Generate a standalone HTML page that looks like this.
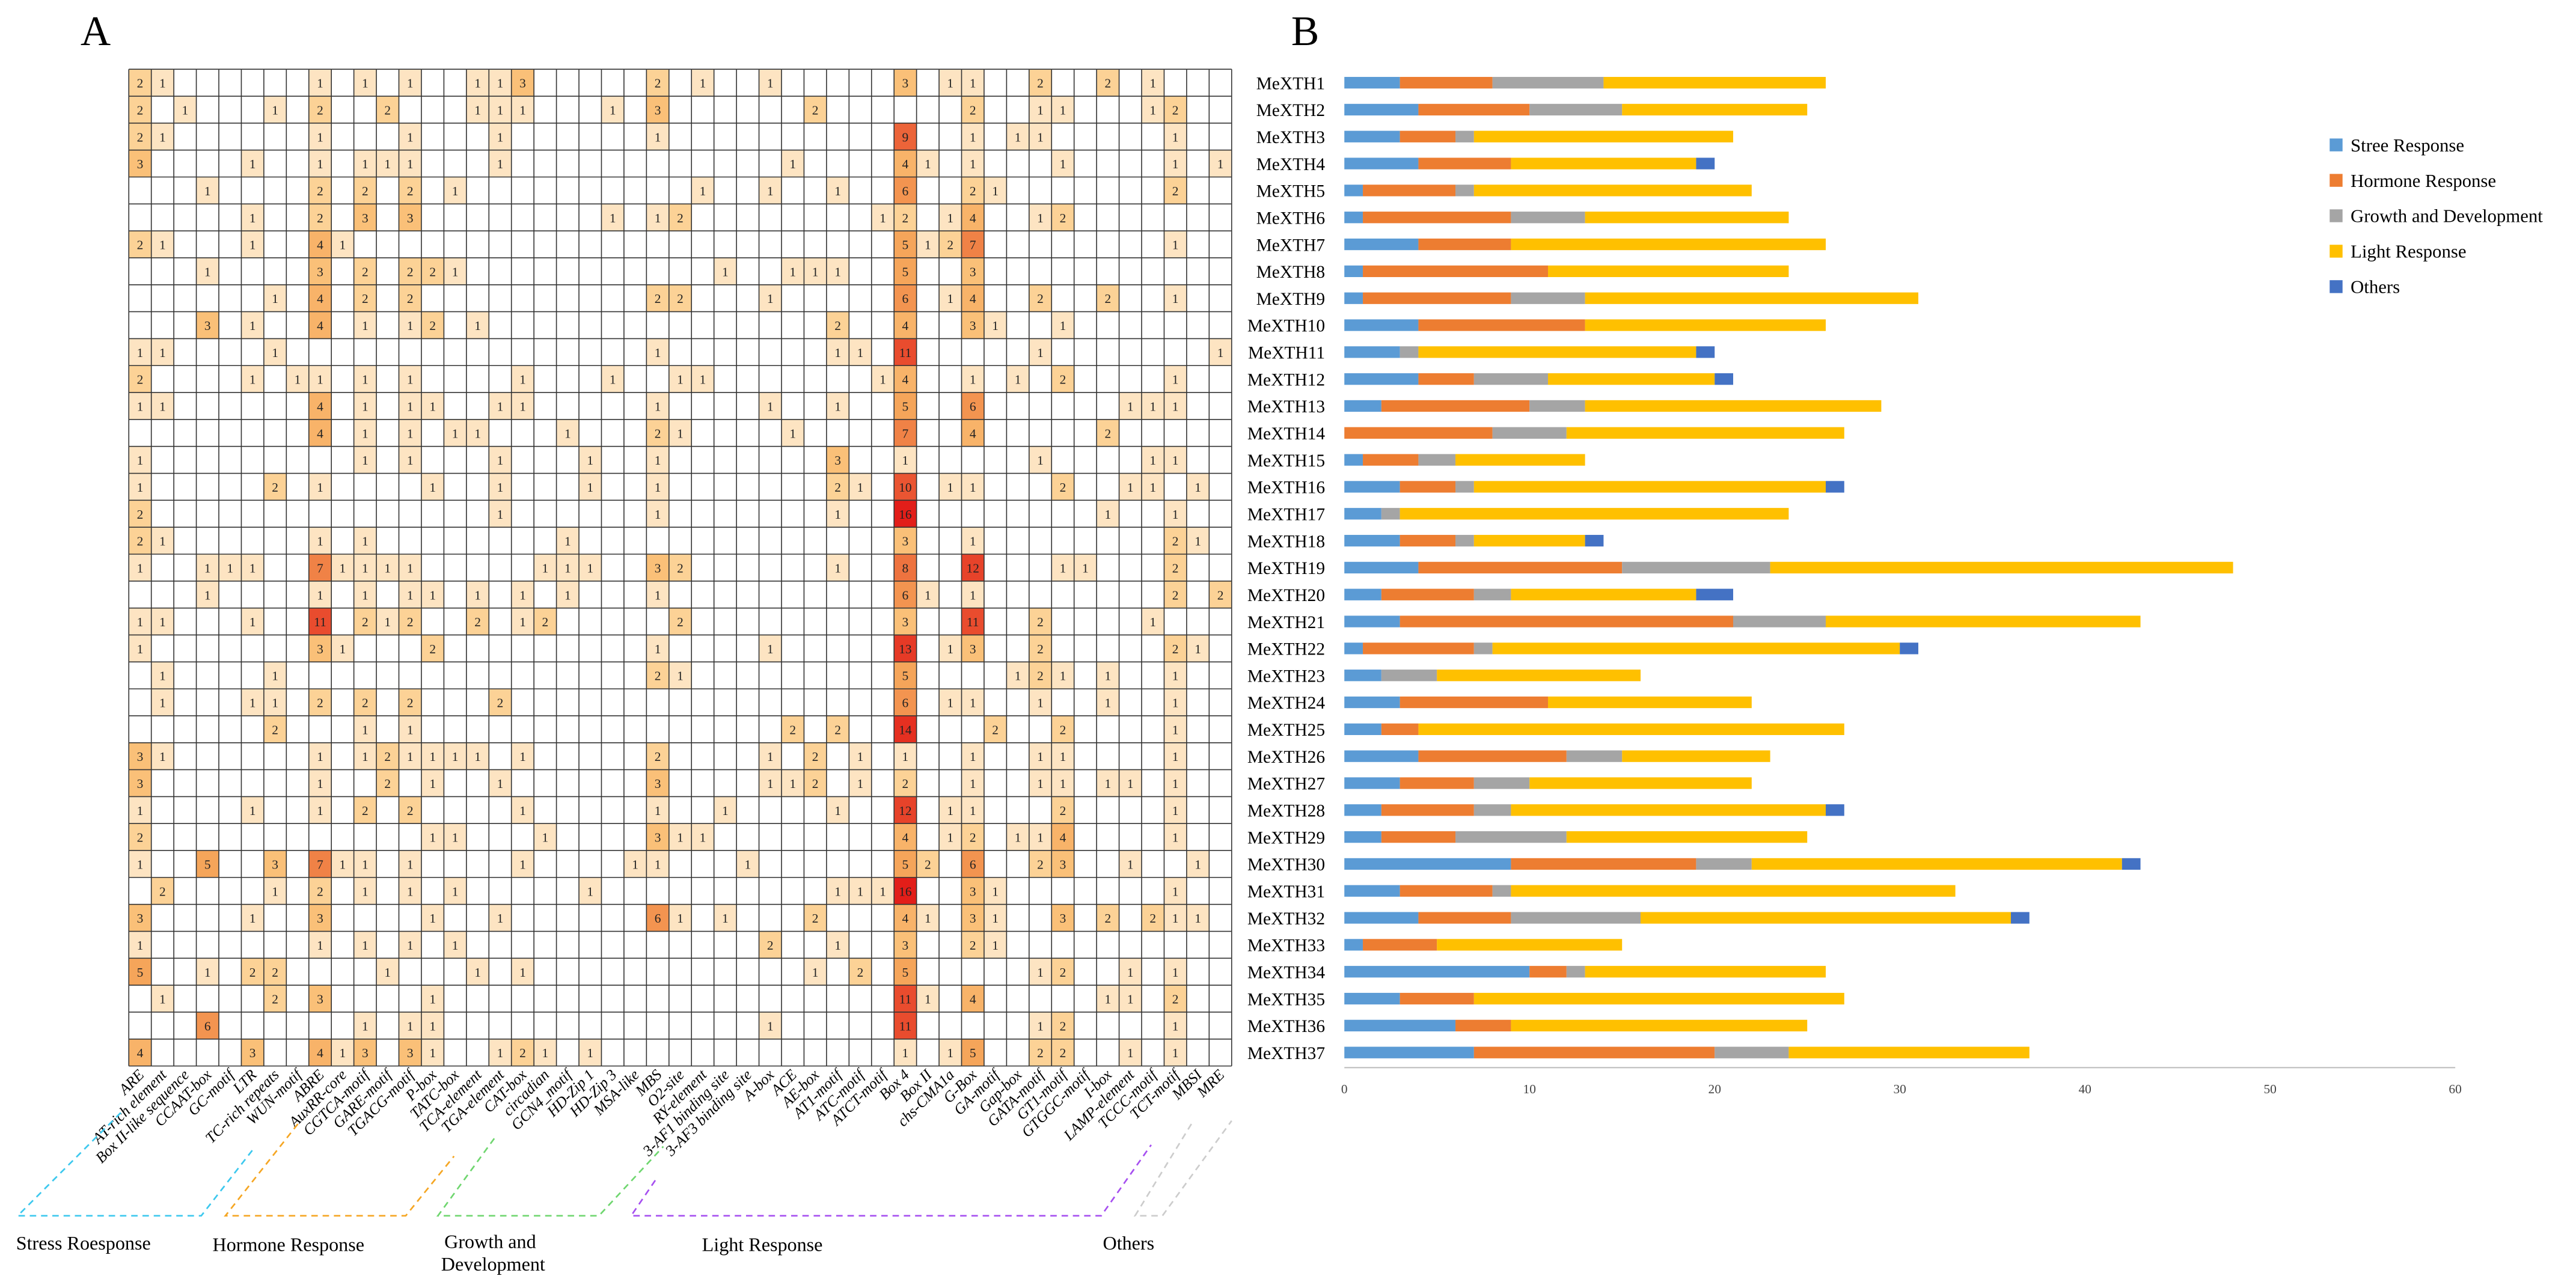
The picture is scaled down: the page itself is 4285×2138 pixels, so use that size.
<!DOCTYPE html>
<html><head><meta charset="utf-8"><style>
html,body{margin:0;padding:0;background:#fff}
svg{display:block}
text{font-family:"Liberation Serif",serif}
</style></head><body>
<svg id="fig" xmlns="http://www.w3.org/2000/svg" width="4285" height="2138" viewBox="0 0 1600 798" preserveAspectRatio="none">
<text x="50" y="28" font-size="26">A</text>
<text x="802" y="28" font-size="26">B</text>
<g id="heat"></g>
<g id="groups">
<polyline points="75,691 11,755 125,755 157,714" fill="none" stroke="#3cc8ee" stroke-width="1" stroke-dasharray="4,3"/>
<polyline points="185,698 140,755 252,755 282,718" fill="none" stroke="#f5a623" stroke-width="1" stroke-dasharray="4,3"/>
<polyline points="307,707 272,755 372,755 412,712" fill="none" stroke="#6fd66f" stroke-width="1" stroke-dasharray="4,3"/>
<polyline points="407,733 392,755 684,755 715,711" fill="none" stroke="#a64ff0" stroke-width="1" stroke-dasharray="4,3"/>
<polyline points="740,698 705,755 722,755 765,696" fill="none" stroke="#cccccc" stroke-width="1" stroke-dasharray="4,3"/>
<text x="10" y="776" font-size="12">Stress Roesponse</text>
<text x="132" y="777" font-size="12">Hormone Response</text>
<text x="276" y="775" font-size="12">Growth and</text>
<text x="274" y="789" font-size="12">Development</text>
<text x="436" y="777" font-size="12">Light Response</text>
<text x="685" y="776" font-size="12">Others</text>
</g>
<g id="bars"></g>
<g id="legend"></g>
</svg>
<script>
// ---- Panel A data ----
const motifs = ["ARE","AT-rich element","Box II-like sequence","CCAAT-box","GC-motif","LTR","TC-rich repeats","WUN-motif","ABRE","AuxRR-core","CGTCA-motif","GARE-motif","TGACG-motif","P-box","TATC-box","TCA-element","TGA-element","CAT-box","circadian","GCN4_motif","HD-Zip 1","HD-Zip 3","MSA-like","MBS","O2-site","RY-element","3-AF1 binding site","3-AF3 binding site","A-box","ACE","AE-box","AT1-motif","ATC-motif","ATCT-motif","Box 4","Box II","chs-CMA1a","G-Box","GA-motif","Gap-box","GATA-motif","GT1-motif","GTGGC-motif","I-box","LAMP-element","TCCC-motif","TCT-motif","MBSI","MRE"];
// each row: list of [columnIndex, count]
const heatRows = [
[[0,2],[1,1],[8,1],[10,1],[12,1],[15,1],[16,1],[17,3],[23,2],[25,1],[28,1],[34,3],[36,1],[37,1],[40,2],[43,2],[45,1]],
[[0,2],[2,1],[6,1],[8,2],[11,2],[15,1],[16,1],[17,1],[21,1],[23,3],[30,2],[37,2],[40,1],[41,1],[45,1],[46,2]],
[[0,2],[1,1],[8,1],[12,1],[16,1],[23,1],[34,9],[37,1],[39,1],[40,1],[46,1]],
[[0,3],[5,1],[8,1],[10,1],[11,1],[12,1],[16,1],[29,1],[34,4],[35,1],[37,1],[41,1],[46,1],[48,1]],
[[3,1],[8,2],[10,2],[12,2],[14,1],[25,1],[28,1],[31,1],[34,6],[37,2],[38,1],[46,2]],
[[5,1],[8,2],[10,3],[12,3],[21,1],[23,1],[24,2],[33,1],[34,2],[36,1],[37,4],[40,1],[41,2]],
[[0,2],[1,1],[5,1],[8,4],[9,1],[34,5],[35,1],[36,2],[37,7],[46,1]],
[[3,1],[8,3],[10,2],[12,2],[13,2],[14,1],[26,1],[29,1],[30,1],[31,1],[34,5],[37,3]],
[[6,1],[8,4],[10,2],[12,2],[23,2],[24,2],[28,1],[34,6],[36,1],[37,4],[40,2],[43,2],[46,1]],
[[3,3],[5,1],[8,4],[10,1],[12,1],[13,2],[15,1],[31,2],[34,4],[37,3],[38,1],[41,1]],
[[0,1],[1,1],[6,1],[23,1],[31,1],[32,1],[34,11],[40,1],[48,1]],
[[0,2],[5,1],[7,1],[8,1],[10,1],[12,1],[17,1],[21,1],[24,1],[25,1],[33,1],[34,4],[37,1],[39,1],[41,2],[46,1]],
[[0,1],[1,1],[8,4],[10,1],[12,1],[13,1],[16,1],[17,1],[23,1],[28,1],[31,1],[34,5],[37,6],[44,1],[45,1],[46,1]],
[[8,4],[10,1],[12,1],[14,1],[15,1],[19,1],[23,2],[24,1],[29,1],[34,7],[37,4],[43,2]],
[[0,1],[10,1],[12,1],[16,1],[20,1],[23,1],[31,3],[34,1],[40,1],[45,1],[46,1]],
[[0,1],[6,2],[8,1],[13,1],[16,1],[20,1],[23,1],[31,2],[32,1],[34,10],[36,1],[37,1],[41,2],[44,1],[45,1],[47,1]],
[[0,2],[16,1],[23,1],[31,1],[34,16],[43,1],[46,1]],
[[0,2],[1,1],[8,1],[10,1],[19,1],[34,3],[37,1],[46,2],[47,1]],
[[0,1],[3,1],[4,1],[5,1],[8,7],[9,1],[10,1],[11,1],[12,1],[18,1],[19,1],[20,1],[23,3],[24,2],[31,1],[34,8],[37,12],[41,1],[42,1],[46,2]],
[[3,1],[8,1],[10,1],[12,1],[13,1],[15,1],[17,1],[19,1],[23,1],[34,6],[35,1],[37,1],[46,2],[48,2]],
[[0,1],[1,1],[5,1],[8,11],[10,2],[11,1],[12,2],[15,2],[17,1],[18,2],[24,2],[34,3],[37,11],[40,2],[45,1]],
[[0,1],[8,3],[9,1],[13,2],[23,1],[28,1],[34,13],[36,1],[37,3],[40,2],[46,2],[47,1]],
[[1,1],[6,1],[23,2],[24,1],[34,5],[39,1],[40,2],[41,1],[43,1],[46,1]],
[[1,1],[5,1],[6,1],[8,2],[10,2],[12,2],[16,2],[34,6],[36,1],[37,1],[40,1],[43,1],[46,1]],
[[6,2],[10,1],[12,1],[29,2],[31,2],[34,14],[38,2],[41,2],[46,1]],
[[0,3],[1,1],[8,1],[10,1],[11,2],[12,1],[13,1],[14,1],[15,1],[17,1],[23,2],[28,1],[30,2],[32,1],[34,1],[37,1],[40,1],[41,1],[46,1]],
[[0,3],[8,1],[11,2],[13,1],[16,1],[23,3],[28,1],[29,1],[30,2],[32,1],[34,2],[37,1],[40,1],[41,1],[43,1],[44,1],[46,1]],
[[0,1],[5,1],[8,1],[10,2],[12,2],[17,1],[23,1],[26,1],[31,1],[34,12],[36,1],[37,1],[41,2],[46,1]],
[[0,2],[13,1],[14,1],[18,1],[23,3],[24,1],[25,1],[34,4],[36,1],[37,2],[39,1],[40,1],[41,4],[46,1]],
[[0,1],[3,5],[6,3],[8,7],[9,1],[10,1],[12,1],[17,1],[22,1],[23,1],[27,1],[34,5],[35,2],[37,6],[40,2],[41,3],[44,1],[47,1]],
[[1,2],[6,1],[8,2],[10,1],[12,1],[14,1],[20,1],[31,1],[32,1],[33,1],[34,16],[37,3],[38,1],[46,1]],
[[0,3],[5,1],[8,3],[13,1],[16,1],[23,6],[24,1],[26,1],[30,2],[34,4],[35,1],[37,3],[38,1],[41,3],[43,2],[45,2],[46,1],[47,1]],
[[0,1],[8,1],[10,1],[12,1],[14,1],[28,2],[31,1],[34,3],[37,2],[38,1]],
[[0,5],[3,1],[5,2],[6,2],[11,1],[15,1],[17,1],[30,1],[32,2],[34,5],[40,1],[41,2],[44,1],[46,1]],
[[1,1],[6,2],[8,3],[13,1],[34,11],[35,1],[37,4],[43,1],[44,1],[46,2]],
[[3,6],[10,1],[12,1],[13,1],[28,1],[34,11],[40,1],[41,2],[46,1]],
[[0,4],[5,3],[8,4],[9,1],[10,3],[12,3],[13,1],[16,1],[17,2],[18,1],[20,1],[34,1],[36,1],[37,5],[40,2],[41,2],[44,1],[46,1]]
];
// ---- Panel B data ----
const genes = Array.from({length:37},(_,i)=>"MeXTH"+(i+1));
const seriesNames = ["Stree Response","Hormone Response","Growth and Development","Light Response","Others"];
const stress = [3,4,3,4,1,1,4,1,1,4,3,4,2,0,1,3,2,3,4,2,3,1,2,3,2,4,3,2,2,9,3,4,1,10,3,6,7];
const hormone = [5,6,3,5,5,8,5,10,8,9,0,3,8,8,3,3,0,3,11,5,18,6,0,8,2,8,4,5,4,10,5,5,4,2,4,3,13];
const growth = [6,5,1,0,1,4,0,0,4,0,1,4,3,4,2,1,1,1,8,2,5,1,3,0,0,3,3,2,6,3,1,7,0,1,0,0,4];
const light = [12,10,14,10,15,11,17,13,18,13,15,9,16,15,7,19,21,6,25,10,17,22,11,11,23,8,12,17,13,20,24,20,10,13,20,16,13];
const others = [0,0,0,1,0,0,0,0,0,0,1,1,0,0,0,1,0,1,0,2,0,1,0,0,0,0,0,1,0,1,0,1,0,0,0,0,0];
const xTicks = [0,10,20,30,40,50,60];
const seriesColors = ["#5b9bd5","#ed7d31","#a5a5a5","#ffc000","#4472c4"];

const NS="http://www.w3.org/2000/svg";
function mk(tag, attrs, parent){const e=document.createElementNS(NS,tag);for(const k in attrs)e.setAttribute(k,attrs[k]);parent.appendChild(e);return e;}

// ---- Heatmap ----
const heat=document.getElementById('heat');
const HX0=80, HY0=43, CW=685/49, RH=619/37;
function heatColor(v){
  const stops=[[1,[253,228,194]],[2,[252,210,150]],[3,[250,192,120]],[5,[245,165,90]],[7,[240,130,70]],[10,[234,85,50]],[16,[226,30,25]]];
  if(v>=16) return "rgb(226,30,25)";
  for(let i=0;i<stops.length-1;i++){const a=stops[i],b=stops[i+1];if(v>=a[0]&&v<=b[0]){const t=(v-a[0])/(b[0]-a[0]);const c=a[1].map((x,j)=>Math.round(x+(b[1][j]-x)*t));return "rgb("+c.join(",")+")";}}
  return "#fff";
}
heatRows.forEach((row,r)=>{
  row.forEach(([c,v])=>{
    const x=HX0+c*CW, y=HY0+r*RH;
    const rc=mk('rect',{x:x,y:y,width:CW,height:RH,fill:heatColor(v)},heat);
    
    
    const t=mk('text',{x:x+CW/2,y:y+RH/2+3,'font-size':8,'text-anchor':'middle',fill:'#222'},heat);
    t.textContent=v;
    
    
  });
});
for(let c=0;c<=49;c++){const l=mk('line',{x1:HX0+c*CW,y1:HY0,x2:HX0+c*CW,y2:HY0+37*RH,stroke:'#333','stroke-width':0.6},heat);}
for(let r=0;r<=37;r++){const l=mk('line',{x1:HX0,y1:HY0+r*RH,x2:HX0+49*CW,y2:HY0+r*RH,stroke:'#333','stroke-width':0.6},heat);}
motifs.forEach((m,c)=>{
  const x=HX0+c*CW+CW/2+3, y=HY0+37*RH+6;
  const t=mk('text',{x:x,y:y,'font-size':9.5,'font-style':'italic','text-anchor':'end',transform:'rotate(-45 '+x+' '+y+')'},heat);
  t.textContent=m;
  
  
});

// ---- Stacked bars ----
const bars=document.getElementById('bars');
const BX0=835, BX1=1525, XMAX=60;
const xs=v=>BX0+(v/XMAX)*(BX1-BX0);
const rowY=i=>HY0+i*RH+RH/2;
const series=[stress,hormone,growth,light,others];
genes.forEach((g,i)=>{
  const y=rowY(i);
  const t=mk('text',{x:823,y:y+4,'font-size':11,'text-anchor':'end'},bars);
  t.textContent=g;
  
  
  let cum=0;
  series.forEach((s,k)=>{
    const v=s[i]; if(!v){return;}
    const r=mk('rect',{x:xs(cum),y:y-3.6,width:xs(cum+v)-xs(cum),height:7.2,fill:seriesColors[k]},bars);
    
    
    cum+=v;
  });
});
const ax=mk('line',{x1:BX0,y1:663,x2:BX1,y2:663,stroke:'#bfbfbf','stroke-width':0.8},bars);


xTicks.forEach(v=>{
  const t=mk('text',{x:xs(v),y:679,'font-size':8,'text-anchor':'middle',fill:'#444','font-family':'Liberation Sans, sans-serif'},bars);
  t.textContent=v;
  
  
});
// ---- Legend ----
const leg=document.getElementById('legend');
seriesNames.forEach((n,k)=>{
  const y=93+k*22;
  const r=mk('rect',{x:1447,y:y-7,width:8,height:8,fill:seriesColors[k]},leg);
  
  
  const t=mk('text',{x:1460,y:y+1,'font-size':11.5},leg);
  t.textContent=n;
  
  
});
</script>
</body></html>
